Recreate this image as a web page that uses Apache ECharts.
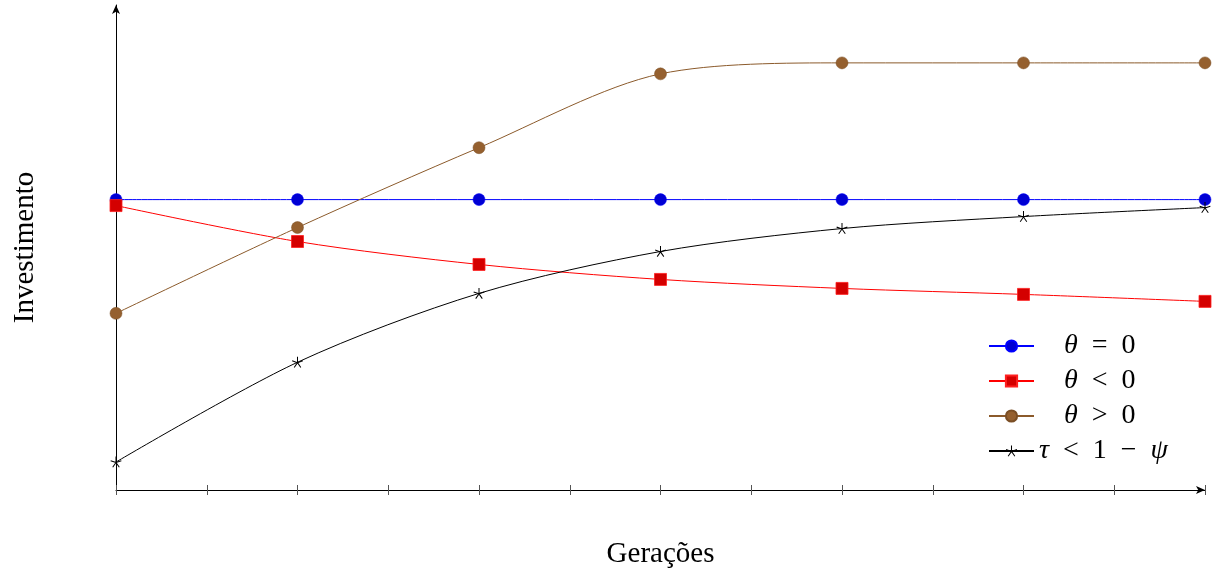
<!DOCTYPE html>
<html><head><meta charset="utf-8">
<script src="https://cdn.jsdelivr.net/npm/echarts@6/dist/echarts.min.js"></script>
<style>html,body{margin:0;padding:0;background:#fff}#c{width:1219px;height:574px}</style>
</head><body><div id="c"></div>
<script>
// Data (generation index on x, investment level in arbitrary units on y)
const generations = [0, 1, 2, 3, 4, 5, 6];
const thetaZero = [291, 291, 291, 291, 291, 291, 291];
const thetaNeg  = [285, 249, 226, 211, 202, 196, 189];
const thetaPos  = [177, 263, 343, 417, 428, 428, 428];
const tauLess   = [28, 128, 197, 239, 262, 274, 283];
const seriesNames = ['θ = 0', 'θ < 0', 'θ > 0', 'τ < 1 − ψ'];

function starPath() {
  const r = 10, w = 0.9; let s = '';
  for (let k = 0; k < 5; k++) {
    const a = k * 2 * Math.PI / 5;
    const dx = Math.sin(a), dy = -Math.cos(a), px = Math.cos(a), py = Math.sin(a);
    const pts = [[px*w, py*w], [r*dx+px*w, r*dy+py*w], [r*dx-px*w, r*dy-py*w], [-px*w, -py*w]];
    s += 'M' + pts.map(p => (p[0]+10).toFixed(2) + ' ' + (p[1]+10).toFixed(2)).join(' L') + ' Z ';
  }
  return 'path://' + s;
}
const pairs = arr => generations.map((g, i) => [g, arr[i]]);

const chart = echarts.init(document.getElementById('c'));
const serif = 'Liberation Serif';
const lbl = (a, b) => '{p|}{i|' + a + '}{n|' + b + '}';
chart.setOption({
  animation: false,
  grid: { left: 116, right: 14, top: 5, bottom: 83 },
  legend: {
    orient: 'vertical', left: 983, top: 327, itemWidth: 45, itemHeight: 14, itemGap: 7,
    data: seriesNames,
    formatter: function (n) {
      if (n === 'θ = 0') return lbl('θ', '  =  0');
      if (n === 'θ < 0') return lbl('θ', '  <  0');
      if (n === 'θ > 0') return lbl('θ', '  >  0');
      return '{i|τ}{n|  <  1  −  }{i|ψ}';
    },
    textStyle: {
      rich: {
        p: { width: 25, height: 22, lineHeight: 22 },
        i: { fontFamily: serif, fontStyle: 'italic', fontSize: 28, color: '#000', lineHeight: 22 },
        n: { fontFamily: serif, fontSize: 28, color: '#000', lineHeight: 22 }
      }
    }
  },
  xAxis: [{
    type: 'value', min: 0, max: 6, interval: 0.5,
    name: 'Gerações', nameLocation: 'middle', nameGap: 50,
    nameTextStyle: { fontFamily: serif, fontSize: 29, color: '#000' },
    axisLine: { show: true, onZero: false, symbol: ['none', 'arrow'], symbolSize: [6, 9], lineStyle: { color: '#000', width: 1 } },
    axisTick: { show: true, length: 5, lineStyle: { color: '#555' } },
    axisLabel: { show: false }, splitLine: { show: false }
  }, {
    type: 'value', min: 0, max: 6, interval: 0.5, position: 'bottom',
    axisLine: { show: false },
    axisTick: { show: true, inside: true, length: 5, lineStyle: { color: '#555' } },
    axisLabel: { show: false }, splitLine: { show: false }
  }],
  yAxis: {
    type: 'value', min: 0, max: 486,
    name: 'Investimento', nameLocation: 'middle', nameGap: 76,
    nameTextStyle: { fontFamily: serif, fontSize: 29, color: '#000' },
    axisLine: { show: true, symbol: ['none', 'arrow'], symbolSize: [6, 9], lineStyle: { color: '#000', width: 1 } },
    axisTick: { show: false }, axisLabel: { show: false }, splitLine: { show: false }
  },
  series: [
    { name: seriesNames[0], type: 'line', data: pairs(thetaZero), smooth: 0.3,
      symbol: 'circle', symbolSize: 12,
      lineStyle: { color: '#0000ff', width: 1 }, itemStyle: { color: '#0000d4', borderColor: '#0000ff', borderWidth: 0.5 } },
    { name: seriesNames[1], type: 'line', data: pairs(thetaNeg), smooth: 0.3,
      symbol: 'rect', symbolSize: 12,
      lineStyle: { color: '#ff0000', width: 1 }, itemStyle: { color: '#d40000', borderColor: '#ff2020', borderWidth: 0.8 } },
    { name: seriesNames[2], type: 'line', data: pairs(thetaPos), smooth: 0.3,
      symbol: 'circle', symbolSize: 12,
      lineStyle: { color: '#8b5a2b', width: 1 }, itemStyle: { color: '#95602f', borderColor: '#7a4e25', borderWidth: 0.5 } },
    { name: seriesNames[3], type: 'line', data: pairs(tauLess), smooth: 0.3,
      symbol: starPath(), symbolSize: 11,
      lineStyle: { color: '#000', width: 1 }, itemStyle: { color: '#000' } }
  ]
});
</script></body></html>
